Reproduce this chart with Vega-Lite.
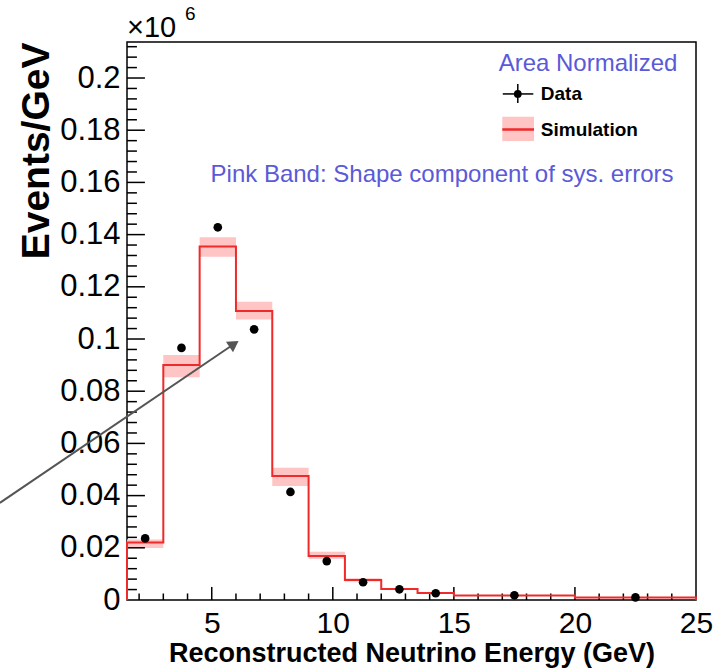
{
  "$schema": "https://vega.github.io/schema/vega-lite/v6.json",
  "width": 569,
  "height": 558,
  "autosize": "none",
  "padding": {"left": 127, "top": 42, "right": 25, "bottom": 68},
  "background": "white",
  "config": {
    "view": {"stroke": "black", "strokeWidth": 1.5},
    "font": "Liberation Sans",
    "axis": {"domain": false, "ticks": false, "grid": false, "labelColor": "black", "titleColor": "black", "labelFont": "Liberation Sans", "titleFont": "Liberation Sans"}
  },
  "datasets": {
    "bins": [
      {"lo": 1.5, "hi": 3, "center": 2.25, "sim": 0.0220, "band_lo": 0.0199, "band_hi": 0.0232, "data": 0.0236},
      {"lo": 3, "hi": 4.5, "center": 3.75, "sim": 0.0900, "band_lo": 0.0853, "band_hi": 0.0939, "data": 0.0966},
      {"lo": 4.5, "hi": 6, "center": 5.25, "sim": 0.1354, "band_lo": 0.1315, "band_hi": 0.1390, "data": 0.1428},
      {"lo": 6, "hi": 7.5, "center": 6.75, "sim": 0.1107, "band_lo": 0.1075, "band_hi": 0.1143, "data": 0.1037},
      {"lo": 7.5, "hi": 9, "center": 8.25, "sim": 0.0475, "band_lo": 0.0437, "band_hi": 0.0507, "data": 0.0414},
      {"lo": 9, "hi": 10.5, "center": 9.75, "sim": 0.0169, "band_lo": 0.0158, "band_hi": 0.0185, "data": 0.0149},
      {"lo": 10.5, "hi": 12, "center": 11.25, "sim": 0.0077, "band_lo": 0.0071, "band_hi": 0.0083, "data": 0.0068},
      {"lo": 12, "hi": 13.5, "center": 12.75, "sim": 0.0042, "band_lo": 0.0039, "band_hi": 0.0046, "data": 0.0041},
      {"lo": 13.5, "hi": 15, "center": 14.25, "sim": 0.0027, "band_lo": 0.0025, "band_hi": 0.0029, "data": 0.0026},
      {"lo": 15, "hi": 20, "center": 17.5, "sim": 0.0017, "band_lo": 0.0016, "band_hi": 0.0018, "data": 0.0018},
      {"lo": 20, "hi": 25, "center": 22.5, "sim": 0.0010, "band_lo": 0.0009, "band_hi": 0.0011, "data": 0.0010}
    ],
    "outline": [
      {"e": 1.5, "v": 0},
      {"e": 1.5, "v": 0.0220},
      {"e": 3, "v": 0.0900},
      {"e": 4.5, "v": 0.1354},
      {"e": 6, "v": 0.1107},
      {"e": 7.5, "v": 0.0475},
      {"e": 9, "v": 0.0169},
      {"e": 10.5, "v": 0.0077},
      {"e": 12, "v": 0.0042},
      {"e": 13.5, "v": 0.0027},
      {"e": 15, "v": 0.0017},
      {"e": 20, "v": 0.0010},
      {"e": 25, "v": 0.0010},
      {"e": 25, "v": 0}
    ],
    "xticks": [
      {"t": 2, "kind": "minor"}, {"t": 3, "kind": "minor"}, {"t": 4, "kind": "minor"}, {"t": 5, "kind": "major"},
      {"t": 6, "kind": "minor"}, {"t": 7, "kind": "minor"}, {"t": 8, "kind": "minor"}, {"t": 9, "kind": "minor"}, {"t": 10, "kind": "major"},
      {"t": 11, "kind": "minor"}, {"t": 12, "kind": "minor"}, {"t": 13, "kind": "minor"}, {"t": 14, "kind": "minor"}, {"t": 15, "kind": "major"},
      {"t": 16, "kind": "minor"}, {"t": 17, "kind": "minor"}, {"t": 18, "kind": "minor"}, {"t": 19, "kind": "minor"}, {"t": 20, "kind": "major"},
      {"t": 21, "kind": "minor"}, {"t": 22, "kind": "minor"}, {"t": 23, "kind": "minor"}, {"t": 24, "kind": "minor"}
    ],
    "yticks": [
      {"t": 0.004, "kind": "minor"}, {"t": 0.008, "kind": "minor"}, {"t": 0.012, "kind": "minor"}, {"t": 0.016, "kind": "minor"}, {"t": 0.02, "kind": "major"},
      {"t": 0.024, "kind": "minor"}, {"t": 0.028, "kind": "minor"}, {"t": 0.032, "kind": "minor"}, {"t": 0.036, "kind": "minor"}, {"t": 0.04, "kind": "major"},
      {"t": 0.044, "kind": "minor"}, {"t": 0.048, "kind": "minor"}, {"t": 0.052, "kind": "minor"}, {"t": 0.056, "kind": "minor"}, {"t": 0.06, "kind": "major"},
      {"t": 0.064, "kind": "minor"}, {"t": 0.068, "kind": "minor"}, {"t": 0.072, "kind": "minor"}, {"t": 0.076, "kind": "minor"}, {"t": 0.08, "kind": "major"},
      {"t": 0.084, "kind": "minor"}, {"t": 0.088, "kind": "minor"}, {"t": 0.092, "kind": "minor"}, {"t": 0.096, "kind": "minor"}, {"t": 0.1, "kind": "major"},
      {"t": 0.104, "kind": "minor"}, {"t": 0.108, "kind": "minor"}, {"t": 0.112, "kind": "minor"}, {"t": 0.116, "kind": "minor"}, {"t": 0.12, "kind": "major"},
      {"t": 0.124, "kind": "minor"}, {"t": 0.128, "kind": "minor"}, {"t": 0.132, "kind": "minor"}, {"t": 0.136, "kind": "minor"}, {"t": 0.14, "kind": "major"},
      {"t": 0.144, "kind": "minor"}, {"t": 0.148, "kind": "minor"}, {"t": 0.152, "kind": "minor"}, {"t": 0.156, "kind": "minor"}, {"t": 0.16, "kind": "major"},
      {"t": 0.164, "kind": "minor"}, {"t": 0.168, "kind": "minor"}, {"t": 0.172, "kind": "minor"}, {"t": 0.176, "kind": "minor"}, {"t": 0.18, "kind": "major"},
      {"t": 0.184, "kind": "minor"}, {"t": 0.188, "kind": "minor"}, {"t": 0.192, "kind": "minor"}, {"t": 0.196, "kind": "minor"}, {"t": 0.2, "kind": "major"},
      {"t": 0.204, "kind": "minor"}, {"t": 0.208, "kind": "minor"}, {"t": 0.212, "kind": "minor"}
    ]
  },
  "layer": [
    {
      "data": {"name": "bins"},
      "mark": {"type": "rect", "fill": "#ffc4c4"},
      "encoding": {
        "x": {"field": "lo", "type": "quantitative", "scale": {"domain": [1.5, 25], "nice": false, "zero": false},
          "axis": {"orient": "bottom", "values": [5, 10, 15, 20, 25], "labelPadding": 8, "labelFontSize": 30, "labelFlush": false, "labelOverlap": false,
            "title": "Reconstructed Neutrino Energy (GeV)", "titleFontSize": 27, "titleFontWeight": "bold", "titlePadding": 2}},
        "x2": {"field": "hi"},
        "y": {"field": "band_lo", "type": "quantitative", "scale": {"domain": [0, 0.2138], "nice": false, "zero": false},
          "axis": {"orient": "left", "values": [0, 0.02, 0.04, 0.06, 0.08, 0.1, 0.12, 0.14, 0.16, 0.18, 0.2], "format": ".2~f", "labelPadding": 7, "labelFontSize": 31, "labelOverlap": false, "labelFlush": false,
            "title": "Events/GeV", "titleFontSize": 39, "titleFontWeight": "bold", "titleAnchor": "end", "titlePadding": 3}},
        "y2": {"field": "band_hi"}
      }
    },
    {
      "data": {"name": "xticks"},
      "transform": [{"filter": "datum.kind === 'major'"}],
      "mark": {"type": "rule", "color": "black", "strokeWidth": 1.5},
      "encoding": {
        "x": {"field": "t", "type": "quantitative"},
        "y": {"datum": 0, "type": "quantitative"},
        "y2": {"datum": 0.0050}
      }
    },
    {
      "data": {"name": "xticks"},
      "transform": [{"filter": "datum.kind === 'minor'"}],
      "mark": {"type": "rule", "color": "black", "strokeWidth": 1.5},
      "encoding": {
        "x": {"field": "t", "type": "quantitative"},
        "y": {"datum": 0, "type": "quantitative"},
        "y2": {"datum": 0.0025}
      }
    },
    {
      "data": {"name": "yticks"},
      "transform": [{"filter": "datum.kind === 'major'"}],
      "mark": {"type": "rule", "color": "black", "strokeWidth": 1.5},
      "encoding": {
        "y": {"field": "t", "type": "quantitative"},
        "x": {"datum": 1.5, "type": "quantitative"},
        "x2": {"datum": 2.24}
      }
    },
    {
      "data": {"name": "yticks"},
      "transform": [{"filter": "datum.kind === 'minor'"}],
      "mark": {"type": "rule", "color": "black", "strokeWidth": 1.5},
      "encoding": {
        "y": {"field": "t", "type": "quantitative"},
        "x": {"datum": 1.5, "type": "quantitative"},
        "x2": {"datum": 1.91}
      }
    },
    {
      "data": {"name": "outline"},
      "mark": {"type": "line", "interpolate": "step-after", "color": "#ee2a2a", "strokeWidth": 2},
      "encoding": {
        "x": {"field": "e", "type": "quantitative"},
        "y": {"field": "v", "type": "quantitative"},
        "order": {"value": null}
      }
    },
    {
      "data": {"name": "bins"},
      "mark": {"type": "point", "filled": true, "shape": "circle", "color": "black", "opacity": 1, "size": 75},
      "encoding": {
        "x": {"field": "center", "type": "quantitative"},
        "y": {"field": "data", "type": "quantitative"}
      }
    },
    {
      "data": {"values": [{}]},
      "layer": [
        {"mark": {"type": "rect", "fill": "#ffc4c4"},
          "encoding": {"x": {"datum": 17.0, "type": "quantitative"}, "x2": {"datum": 18.31}, "y": {"datum": 0.1759, "type": "quantitative"}, "y2": {"datum": 0.1852}}},
        {"mark": {"type": "rule", "color": "#ee2a2a", "strokeWidth": 2.5},
          "encoding": {"x": {"datum": 17.0, "type": "quantitative"}, "x2": {"datum": 18.31}, "y": {"datum": 0.1803, "type": "quantitative"}}},
        {"mark": {"type": "rule", "color": "black", "strokeWidth": 1.5},
          "encoding": {"x": {"datum": 17.02, "type": "quantitative"}, "x2": {"datum": 18.28}, "y": {"datum": 0.1939, "type": "quantitative"}}},
        {"mark": {"type": "rule", "color": "black", "strokeWidth": 1.5},
          "encoding": {"x": {"datum": 17.64, "type": "quantitative"}, "y": {"datum": 0.1904, "type": "quantitative"}, "y2": {"datum": 0.1977}}},
        {"mark": {"type": "point", "filled": true, "shape": "circle", "color": "black", "opacity": 1, "size": 60},
          "encoding": {"x": {"datum": 17.64, "type": "quantitative"}, "y": {"datum": 0.1939, "type": "quantitative"}}},
        {"mark": {"type": "text", "text": "Data", "font": "Liberation Sans", "fontWeight": "bold", "fontSize": 19, "align": "left", "baseline": "middle", "color": "black"},
          "encoding": {"x": {"datum": 18.59, "type": "quantitative"}, "y": {"datum": 0.1939, "type": "quantitative"}}},
        {"mark": {"type": "text", "text": "Simulation", "font": "Liberation Sans", "fontWeight": "bold", "fontSize": 19, "align": "left", "baseline": "middle", "color": "black"},
          "encoding": {"x": {"datum": 18.59, "type": "quantitative"}, "y": {"datum": 0.1801, "type": "quantitative"}}},
        {"mark": {"type": "text", "text": "Area Normalized", "font": "Liberation Sans", "fontSize": 24, "align": "center", "baseline": "middle", "color": "#5a5ad8"},
          "encoding": {"x": {"datum": 20.54, "type": "quantitative"}, "y": {"datum": 0.2054, "type": "quantitative"}}},
        {"mark": {"type": "text", "text": "Pink Band: Shape component of sys. errors", "font": "Liberation Sans", "fontSize": 24, "align": "center", "baseline": "middle", "color": "#5a5ad8"},
          "encoding": {"x": {"datum": 14.51, "type": "quantitative"}, "y": {"datum": 0.1628, "type": "quantitative"}}},
        {"mark": {"type": "text", "text": "×10", "font": "Liberation Sans", "fontSize": 29, "align": "left", "baseline": "alphabetic", "color": "black", "clip": false},
          "encoding": {"x": {"datum": 1.5, "type": "quantitative"}, "y": {"datum": 0.2157, "type": "quantitative"}}},
        {"mark": {"type": "text", "text": "6", "font": "Liberation Sans", "fontSize": 19, "align": "left", "baseline": "alphabetic", "color": "black", "clip": false},
          "encoding": {"x": {"datum": 3.9, "type": "quantitative"}, "y": {"datum": 0.2222, "type": "quantitative"}}},
        {"mark": {"type": "rule", "color": "#555555", "strokeWidth": 2, "clip": false},
          "encoding": {"x": {"datum": -3.75, "type": "quantitative"}, "x2": {"datum": 5.92}, "y": {"datum": 0.0372, "type": "quantitative"}, "y2": {"datum": 0.0981}}},
        {"mark": {"type": "point", "shape": "triangle-right", "filled": true, "color": "#555555", "opacity": 1, "size": 160, "angle": 326, "clip": false},
          "encoding": {"x": {"datum": 5.92, "type": "quantitative"}, "y": {"datum": 0.0981, "type": "quantitative"}}}
      ]
    }
  ]
}
